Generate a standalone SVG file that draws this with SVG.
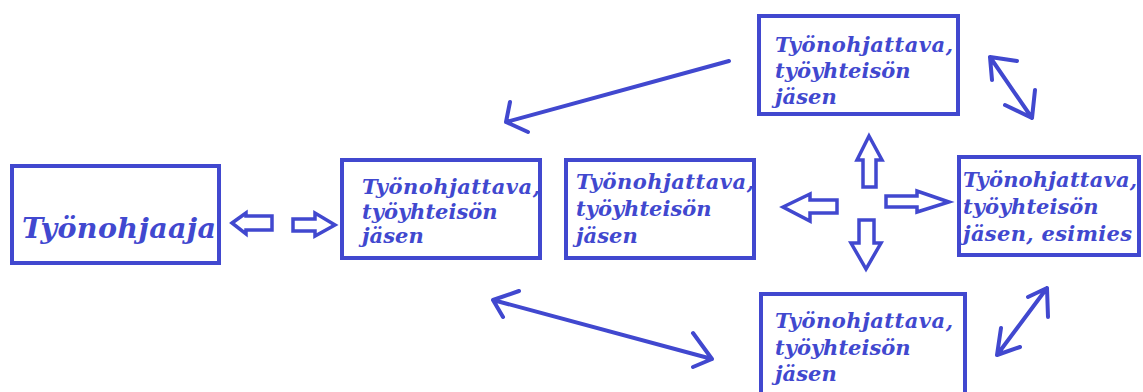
<svg xmlns="http://www.w3.org/2000/svg" width="1143" height="392" viewBox="0 0 1143 392">
  <style>
    .box { fill: #ffffff; stroke: #4148cf; stroke-width: 4; }
    .lbl { font-family: "DejaVu Serif", "Liberation Serif", serif; font-weight: bold; font-style: italic; fill: #4148cf; font-size: 21px; }
    .big { font-size: 28.5px; }
    .block { fill: #ffffff; stroke: #4148cf; stroke-width: 3.5; stroke-linejoin: miter; }
    .line { fill: none; stroke: #4148cf; stroke-width: 4; stroke-linecap: round; stroke-linejoin: round; }
  </style>
  <rect width="1143" height="392" fill="#ffffff"/>

  <g id="node-tyonohjaaja">
    <rect class="box" x="12" y="166" width="207" height="97"/>
    <text class="lbl big" x="22" y="238" textLength="194">Työnohjaaja</text>
  </g>

  <g id="node-jasen-left">
    <rect class="box" x="342" y="160" width="198" height="98"/>
    <text class="lbl" x="362" y="194" textLength="178">Työnohjattava,</text>
    <text class="lbl" x="362" y="219">työyhteisön</text>
    <text class="lbl" x="362" y="243">jäsen</text>
  </g>

  <g id="node-jasen-center">
    <rect class="box" x="566" y="160" width="188" height="98"/>
    <text class="lbl" x="576" y="189" textLength="178">Työnohjattava,</text>
    <text class="lbl" x="576" y="216">työyhteisön</text>
    <text class="lbl" x="576" y="243">jäsen</text>
  </g>

  <g id="node-jasen-top">
    <rect class="box" x="759" y="16" width="199" height="98"/>
    <text class="lbl" x="775" y="52" textLength="178">Työnohjattava,</text>
    <text class="lbl" x="775" y="78">työyhteisön</text>
    <text class="lbl" x="775" y="104">jäsen</text>
  </g>

  <g id="node-esimies">
    <rect class="box" x="959" y="157" width="180" height="98"/>
    <text class="lbl" x="963" y="187" textLength="174">Työnohjattava,</text>
    <text class="lbl" x="963" y="214">työyhteisön</text>
    <text class="lbl" x="963" y="241" textLength="169">jäsen, esimies</text>
  </g>

  <g id="node-jasen-bottom">
    <rect class="box" x="761" y="294" width="204" height="104"/>
    <text class="lbl" x="775" y="328" textLength="178">Työnohjattava,</text>
    <text class="lbl" x="775" y="355">työyhteisön</text>
    <text class="lbl" x="775" y="381">jäsen</text>
  </g>

  <g id="connectors">
    <!-- hollow block arrows -->
    <polygon class="block" points="232,223 246,213 246,216 272,216 272,230 246,230 246,234"/>
    <polygon class="block" points="293,219 315,219 315,213 335,225 315,236 315,231 293,231"/>
    <polygon class="block" points="869,136 882,160 876,160 876,187 863,187 863,160 857,160"/>
    <polygon class="block" points="783,207 810,194 810,200 837,200 837,213 810,213 810,221"/>
    <polygon class="block" points="886,196 917,196 917,191 949,202 917,212 917,207 886,207"/>
    <polygon class="block" points="859,220 874,220 874,243 881,243 866,269 851,243 859,243"/>

    <!-- hand-drawn line arrows -->
    <path class="line" d="M729,61 L506,122 M510,102 L506,122 L528,132"/>
    <path class="line" d="M990,57 L1032,118 M1017,61 L990,57 L992,80 M1035,90 L1032,118 L1005,105"/>
    <path class="line" d="M493,300 L712,359 M519,291 L493,300 L503,317 M693,333 L712,359 L693,367"/>
    <path class="line" d="M1047,288 L997,355 M1048,317 L1047,288 L1028,297 M1001,328 L997,355 L1020,347"/>
  </g>
</svg>
